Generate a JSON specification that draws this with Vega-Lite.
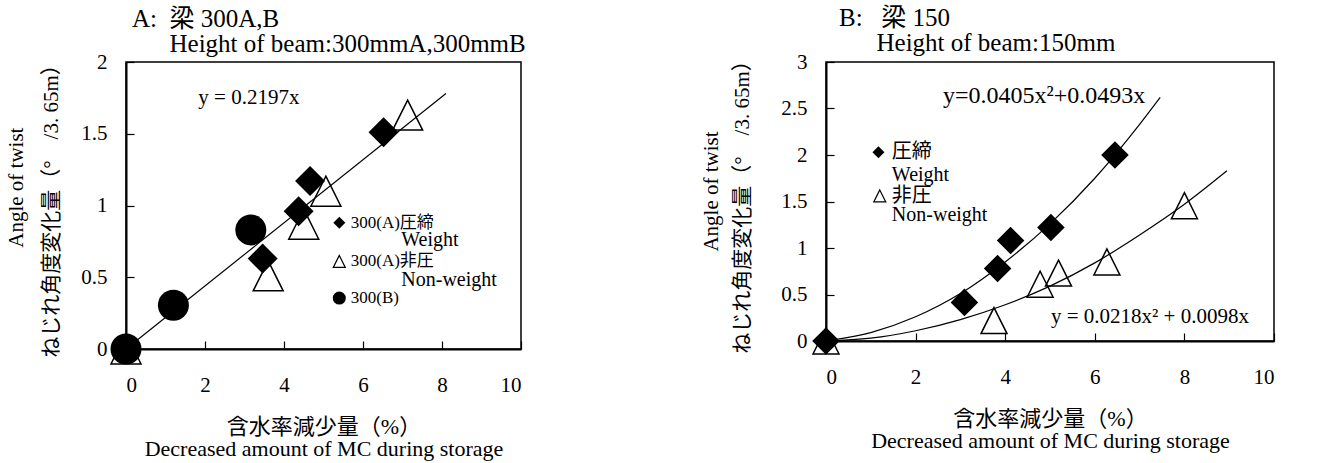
{
  "$schema": "https://vega.github.io/schema/vega-lite/v6.json",
  "background": "white",
  "padding": {"left": 4, "top": 4, "right": 5, "bottom": 5},
  "bounds": "flush",
  "spacing": 305,
  "config": {
    "font": "'Liberation Serif', 'Noto Sans CJK JP', serif",
    "view": {"stroke": "black", "strokeWidth": 1.5},
    "axis": {
      "domainColor": "black", "domainWidth": 2, "tickColor": "black", "tickSize": -8, "tickWidth": 1.2,
      "labelFont": "'Liberation Serif', 'Noto Sans CJK JP', serif", "labelFontSize": 21, "labelColor": "black",
      "titleFont": "'Liberation Serif', 'Noto Sans CJK JP', serif", "titleFontSize": 21, "titleFontWeight": "normal", "titleColor": "black",
      "grid": false
    },
    "axisX": {"labelPadding": 33, "titleFontSize": 22, "titleLineHeight": 22, "titlePadding": 21},
    "axisY": {"labelPadding": 27, "titleLineHeight": 35, "titlePadding": 19},
    "title": {"font": "'Liberation Serif', 'Noto Sans CJK JP', serif", "fontSize": 25, "fontWeight": "normal", "anchor": "start", "frame": "group", "lineHeight": 25, "color": "black", "offset": -6},
    "text": {"font": "'Liberation Serif', 'Noto Sans CJK JP', serif", "color": "black"}
  },
  "datasets": {
    "lineA": [{"x": 0, "y": 0}, {"x": 8.1, "y": 1.78}],
    "triA": [{"x": 0, "y": 0}, {"x": 3.6, "y": 0.51}, {"x": 4.5, "y": 0.87}, {"x": 5.06, "y": 1.1}, {"x": 7.13, "y": 1.63}],
    "diaA": [{"x": 0, "y": 0}, {"x": 3.46, "y": 0.63}, {"x": 4.37, "y": 0.96}, {"x": 4.66, "y": 1.17}, {"x": 6.52, "y": 1.51}],
    "cirA": [{"x": 0, "y": 0}, {"x": 1.2, "y": 0.305}, {"x": 3.16, "y": 0.83}],
    "eqA": [{"x": 1.83, "y": 1.75, "t": "y = 0.2197x"}],
    "legDiaA": [{"x": 5.4, "y": 0.88}],
    "legTriA": [{"x": 5.4, "y": 0.61}],
    "legCirA": [{"x": 5.4, "y": 0.355}],
    "legTxtA1": [{"x": 5.69, "y": 0.88, "t": "300(A)圧締"}, {"x": 5.69, "y": 0.61, "t": "300(A)非圧"}, {"x": 5.69, "y": 0.355, "t": "300(B)"}],
    "legTxtA2": [{"x": 6.97, "y": 0.76, "t": "Weight"}, {"x": 6.97, "y": 0.48, "t": "Non-weight"}],
    "curveB1": [{"x": 0, "y": 0}, {"x": 1, "y": 0.09}, {"x": 2, "y": 0.26}, {"x": 3, "y": 0.51}, {"x": 4, "y": 0.85}, {"x": 5, "y": 1.26}, {"x": 6, "y": 1.75}, {"x": 7, "y": 2.33}, {"x": 7.46, "y": 2.62}],
    "curveB2": [{"x": 0, "y": 0}, {"x": 1, "y": 0.03}, {"x": 2, "y": 0.11}, {"x": 3, "y": 0.23}, {"x": 4, "y": 0.39}, {"x": 5, "y": 0.59}, {"x": 6, "y": 0.84}, {"x": 7, "y": 1.14}, {"x": 8, "y": 1.47}, {"x": 8.95, "y": 1.83}],
    "diaB": [{"x": 0, "y": 0}, {"x": 3.09, "y": 0.415}, {"x": 3.83, "y": 0.78}, {"x": 4.12, "y": 1.08}, {"x": 5.02, "y": 1.22}, {"x": 6.45, "y": 2.0}],
    "triB": [{"x": 0, "y": 0}, {"x": 3.75, "y": 0.22}, {"x": 4.78, "y": 0.61}, {"x": 5.19, "y": 0.73}, {"x": 6.27, "y": 0.85}, {"x": 8.0, "y": 1.455}],
    "eqB1": [{"x": 2.61, "y": 2.63, "t": "y=0.0405x²+0.0493x"}],
    "eqB2": [{"x": 5.02, "y": 0.26, "t": "y = 0.0218x² + 0.0098x"}],
    "legDiaB": [{"x": 1.17, "y": 2.03}],
    "legTriB": [{"x": 1.2, "y": 1.56}],
    "legTxtB": [{"x": 1.47, "y": 2.03, "t": "圧締"}, {"x": 1.47, "y": 1.79, "t": "Weight"}, {"x": 1.47, "y": 1.56, "t": "非圧"}, {"x": 1.47, "y": 1.35, "t": "Non-weight"}]
  },
  "hconcat": [
    {
      "width": 395,
      "height": 287,
      "title": {"text": ["A:\u00a0\u00a0梁 300A,B", "\u200b\u00a0\u00a0\u00a0\u00a0\u00a0\u00a0Height of beam:300mmA,300mmB"], "dx": 6},
      "encoding": {
        "x": {"field": "x", "type": "quantitative", "scale": {"domain": [0, 10], "nice": false, "zero": false},
              "axis": {"values": [0, 2, 4, 6, 8, 10], "format": "~r", "labelFont": "Liberation Serif", "titleFont": "'Liberation Serif', 'Noto Sans CJK JP', serif",
                       "title": ["含水率減少量（%）", "Decreased amount of MC during storage"]}},
        "y": {"field": "y", "type": "quantitative", "scale": {"domain": [0, 2], "nice": false, "zero": false},
              "axis": {"values": [0, 0.5, 1, 1.5, 2], "format": "~r", "labelFont": "Liberation Serif", "titleFont": "'Liberation Serif', 'Noto Sans CJK JP', serif",
                       "title": ["\u200b\u00a0\u00a0\u00a0\u00a0\u00a0\u00a0\u00a0Angle of twist", "ねじれ角度変化量（°\u3000/3. 65m）"]}}
      },
      "layer": [
        {"data": {"name": "lineA"}, "mark": {"type": "line", "color": "black", "strokeWidth": 1.2}},
        {"data": {"name": "triA"}, "mark": {"type": "point", "shape": "M0,-1L1,1L-1,1Z", "filled": false, "stroke": "black", "strokeWidth": 1.5, "size": 900, "opacity": 1}},
        {"data": {"name": "diaA"}, "mark": {"type": "point", "shape": "diamond", "filled": true, "color": "black", "size": 900, "opacity": 1}},
        {"data": {"name": "cirA"}, "mark": {"type": "point", "shape": "circle", "filled": true, "color": "black", "size": 960, "opacity": 1}},
        {"data": {"name": "eqA"}, "mark": {"type": "text", "align": "left", "baseline": "middle", "fontSize": 21}, "encoding": {"text": {"field": "t"}}},
        {"data": {"name": "legDiaA"}, "mark": {"type": "point", "shape": "diamond", "filled": true, "color": "black", "size": 144, "opacity": 1}},
        {"data": {"name": "legTriA"}, "mark": {"type": "point", "shape": "M0,-1L1,1L-1,1Z", "filled": false, "stroke": "black", "strokeWidth": 1.2, "size": 144, "opacity": 1}},
        {"data": {"name": "legCirA"}, "mark": {"type": "point", "shape": "circle", "filled": true, "color": "black", "size": 170, "opacity": 1}},
        {"data": {"name": "legTxtA1"}, "mark": {"type": "text", "align": "left", "baseline": "middle", "fontSize": 17}, "encoding": {"text": {"field": "t"}}},
        {"data": {"name": "legTxtA2"}, "mark": {"type": "text", "align": "left", "baseline": "middle", "fontSize": 20}, "encoding": {"text": {"field": "t"}}}
      ]
    },
    {
      "width": 448,
      "height": 279,
      "title": {"text": ["B:\u00a0\u00a0\u00a0梁 150", "\u200b\u00a0\u00a0\u00a0\u00a0\u00a0\u00a0Height of beam:150mm"], "dx": 13},
      "encoding": {
        "x": {"field": "x", "type": "quantitative", "scale": {"domain": [0, 10], "nice": false, "zero": false},
              "axis": {"values": [0, 2, 4, 6, 8, 10], "format": "~r", "labelFont": "Liberation Serif", "titleFont": "'Liberation Serif', 'Noto Sans CJK JP', serif",
                       "title": ["含水率減少量（%）", "Decreased amount of MC during storage"]}},
        "y": {"field": "y", "type": "quantitative", "scale": {"domain": [0, 3], "nice": false, "zero": false},
              "axis": {"values": [0, 0.5, 1, 1.5, 2, 2.5, 3], "format": "~r", "labelFont": "Liberation Serif", "titleFont": "'Liberation Serif', 'Noto Sans CJK JP', serif",
                       "titlePadding": 28, "titleLineHeight": 31,
                       "title": ["\u200b\u00a0\u00a0\u00a0\u00a0Angle of twist", "ねじれ角度変化量（°\u3000/3. 65m）"]}}
      },
      "layer": [
        {"data": {"name": "curveB1"}, "mark": {"type": "line", "color": "black", "strokeWidth": 1.2, "interpolate": "monotone"}},
        {"data": {"name": "curveB2"}, "mark": {"type": "line", "color": "black", "strokeWidth": 1.2, "interpolate": "monotone"}},
        {"data": {"name": "triB"}, "mark": {"type": "point", "shape": "M0,-1L1,1L-1,1Z", "filled": false, "stroke": "black", "strokeWidth": 1.5, "size": 676, "opacity": 1}},
        {"data": {"name": "diaB"}, "mark": {"type": "point", "shape": "diamond", "filled": true, "color": "black", "size": 760, "opacity": 1}},
        {"data": {"name": "eqB1"}, "mark": {"type": "text", "align": "left", "baseline": "middle", "fontSize": 24}, "encoding": {"text": {"field": "t"}}},
        {"data": {"name": "eqB2"}, "mark": {"type": "text", "align": "left", "baseline": "middle", "fontSize": 21}, "encoding": {"text": {"field": "t"}}},
        {"data": {"name": "legDiaB"}, "mark": {"type": "point", "shape": "diamond", "filled": true, "color": "black", "size": 144, "opacity": 1}},
        {"data": {"name": "legTriB"}, "mark": {"type": "point", "shape": "M0,-1L1,1L-1,1Z", "filled": false, "stroke": "black", "strokeWidth": 1.2, "size": 144, "opacity": 1}},
        {"data": {"name": "legTxtB"}, "mark": {"type": "text", "align": "left", "baseline": "middle", "fontSize": 20}, "encoding": {"text": {"field": "t"}}}
      ]
    }
  ]
}
